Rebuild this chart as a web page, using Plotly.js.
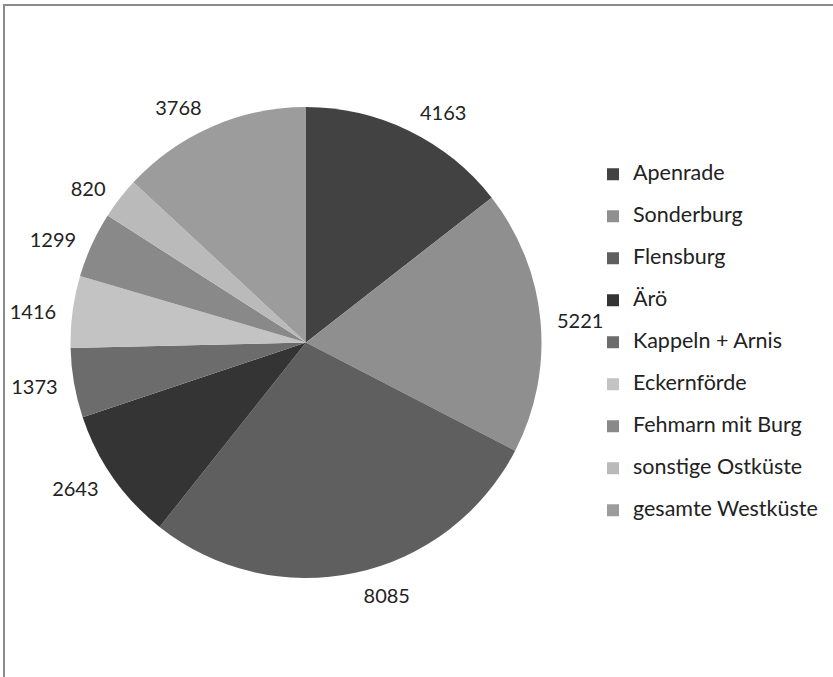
<!DOCTYPE html>
<html>
<head>
<meta charset="utf-8">
<script src="https://cdn.plot.ly/plotly-3.0.1.min.js"></script>
<style>html,body{margin:0;padding:0;background:#fff;}#chart{width:833px;height:677px;}</style>
</head>
<body>
<div id="chart"></div>
<script>
var categories = ["Apenrade", "Sonderburg", "Flensburg", "Ärö", "Kappeln + Arnis", "Eckernförde", "Fehmarn mit Burg", "sonstige Ostküste", "gesamte Westküste"];
var values = [4163, 5221, 8085, 2643, 1373, 1416, 1299, 820, 3768];
var colors = ["#424242", "#8f8f8f", "#5f5f5f", "#343434", "#6c6c6c", "#c3c3c3", "#898989", "#bababa", "#9c9c9c"];

var legendLabels = categories.map(function (c) {
  return '<span style="font-size:21.5px">' + c + '</span><br> ';
});

var labelFont = {family: 'Lato, "Open Sans", sans-serif', size: 20, color: '#222'};

// transparent, slightly larger pie that carries the value labels (placed further out)
var labelTrace = {
  type: 'pie',
  labels: categories,
  values: values,
  sort: false,
  direction: 'clockwise',
  rotation: 0,
  marker: {colors: categories.map(function () { return 'rgba(0,0,0,0)'; }), line: {width: 0}},
  textinfo: 'value',
  textposition: 'outside',
  outsidetextfont: labelFont,
  showlegend: false,
  hoverinfo: 'none',
  domain: {x: [60/833, 552/833], y: [1 - 589/677, 1 - 97/677]}
};

var trace = {
  type: 'pie',
  labels: legendLabels,
  values: values,
  sort: false,
  direction: 'clockwise',
  rotation: 0,
  marker: {colors: colors, line: {width: 0}},
  textinfo: 'none',
  hoverinfo: 'none',
  domain: {x: [70/833, 542/833], y: [1 - 578/677, 1 - 107/677]}
};

var layout = {
  width: 833,
  height: 677,
  margin: {l: 0, r: 0, t: 0, b: 0},
  paper_bgcolor: '#ffffff',
  showlegend: true,
  legend: {
    x: 593/833, xanchor: 'left',
    y: 1 - 158/677, yanchor: 'top',
    font: {family: 'Lato, "Open Sans", sans-serif', size: 15, color: '#222'},
    valign: 'top',
    bgcolor: 'rgba(0,0,0,0)'
  },
  shapes: [{
    type: 'rect', xref: 'paper', yref: 'paper',
    x0: 4/833, x1: 1.05, y0: -0.05, y1: 1 - 5/677,
    line: {color: '#8c8c8c', width: 2}, fillcolor: 'rgba(0,0,0,0)'
  }]
};

Plotly.newPlot('chart', [labelTrace, trace], layout, {displayModeBar: false, staticPlot: true});
</script>
</body>
</html>
